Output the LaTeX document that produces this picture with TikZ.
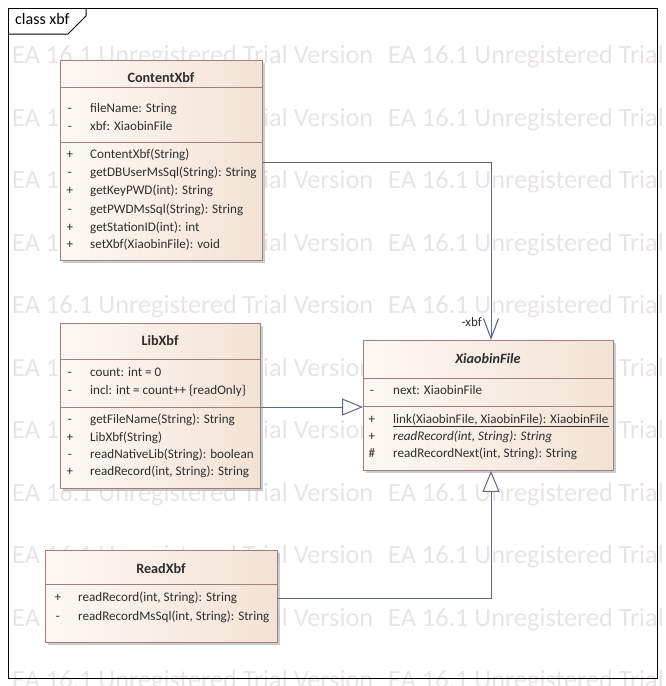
\documentclass[tikz,border=0pt]{standalone}
\usepackage{fontspec}
\setmainfont{Carlito}
\usetikzlibrary{arrows.meta,calc,shadows}

\definecolor{boxL}{HTML}{FDF8F4}
\definecolor{boxR}{HTML}{F3E2D5}
\definecolor{boxBorder}{HTML}{A47E7E}
\definecolor{shadowC}{HTML}{BFBFBF}
\definecolor{wire}{HTML}{5E6785}
\definecolor{ink}{HTML}{2E2E2E}
\definecolor{wmark}{HTML}{E8E4E4}

\tikzset{
  classbox/.style={draw=boxBorder, line width=0.9pt, left color=boxL, right color=boxR,
    anchor=north west, inner sep=0pt,
    drop shadow={shadow xshift=3pt, shadow yshift=-3pt, fill=shadowC, opacity=0.8}},
  compart/.style={draw=boxBorder, line width=0.9pt},
  txt/.style={inner sep=0pt, text=ink, font=\fontsize{13.1}{15}\selectfont,
    text height=9pt, text depth=3pt},
  vis/.style={txt, anchor=center},
  mem/.style={txt, anchor=west},
  ctitle/.style={txt, anchor=center, font=\fontsize{14.2}{16}\selectfont\bfseries},
  wmtext/.style={inner sep=0pt, anchor=base west, text=wmark, font=\fontsize{26.3}{28}\selectfont},
  wire/.style={draw=wire, line width=1pt},
  assoc/.style={wire, -{Straight Barb[length=20pt, width=15pt, line width=1.1pt]}},
  generalize/.style={wire, -{Triangle[open, length=21pt, width=17pt, fill=white, line width=1pt]}},
}

% one visibility mark plus its member text
\newcommand\umlrow[6]{%
  \node[vis] (#1v) at (#2,#4) {#5};
  \node[mem] (#1t) at (#3,#4) {#6};}

\begin{document}
\begin{tikzpicture}[x=1pt, y=-1pt]
\useasboundingbox (0,0) rectangle (665,686);

% repeated background stamp
\begin{scope}
  \clip (0,0) rectangle (665,686);
  \foreach \r in {0,...,10} {
    \node[wmtext] (wmA\r) at (12, 63.5+62.5*\r) {EA 16.1 Unregistered Trial Version};
    \node[wmtext] (wmB\r) at (388, 63.5+62.5*\r) {EA 16.1 Unregistered Trial Version};
  }
\end{scope}

% diagram frame with its name tab
\draw[black, line width=1pt] (8,8) rectangle (657,678);
\draw[black, line width=1pt] (8,34) -- (68,34) -- (86,16) -- (86,8);
\node[txt, anchor=west, text=black, font=\fontsize{16}{18}\selectfont] (frametitle) at (15,21) {class xbf};

% ---------- ContentXbf ----------
\node[classbox, minimum width=202pt, minimum height=200pt] (content) at (60,60) {};
\draw[compart] ($(content.north west)+(0,27)$) -- ++(202,0);
\draw[compart] ($(content.north west)+(0,82)$) -- ++(202,0);
\node[ctitle] (contenttitle) at (161,79) {ContentXbf};
\umlrow{ca1}{70}{90}{109}{-}{fileName: String}
\umlrow{ca2}{70}{90}{127}{-}{xbf: XiaobinFile}
\umlrow{cm1}{70}{90}{155}{+}{ContentXbf(String)}
\umlrow{cm2}{70}{90}{173}{-}{getDBUserMsSql(String): String}
\umlrow{cm3}{70}{90}{191}{+}{getKeyPWD(int): String}
\umlrow{cm4}{70}{90}{210}{-}{getPWDMsSql(String): String}
\umlrow{cm5}{70}{90}{228}{+}{getStationID(int): int}
\umlrow{cm6}{70}{90}{245}{+}{setXbf(XiaobinFile): void}

% ---------- LibXbf ----------
\node[classbox, minimum width=200pt, minimum height=165pt] (lib) at (60,323) {};
\draw[compart] ($(lib.north west)+(0,36)$) -- ++(200,0);
\draw[compart] ($(lib.north west)+(0,84)$) -- ++(200,0);
\node[ctitle] (libtitle) at (160,342) {LibXbf};
\umlrow{la1}{70}{90}{373}{-}{count: int = 0}
\umlrow{la2}{70}{90}{391}{-}{incl: int = count++ \{readOnly\}}
\umlrow{lm1}{70}{90}{420}{-}{getFileName(String): String}
\umlrow{lm2}{70}{90}{438}{+}{LibXbf(String)}
\umlrow{lm3}{70}{90}{455}{-}{readNativeLib(String): boolean}
\umlrow{lm4}{70}{90}{472}{+}{readRecord(int, String): String}

% ---------- XiaobinFile ----------
\node[classbox, minimum width=250pt, minimum height=130pt] (xiaobin) at (363,340) {};
\draw[compart] ($(xiaobin.north west)+(0,38)$) -- ++(250,0);
\draw[compart] ($(xiaobin.north west)+(0,66)$) -- ++(250,0);
\node[ctitle, font=\fontsize{14.2}{16}\selectfont\bfseries\itshape] (xiaobintitle) at (488,360) {XiaobinFile};
\umlrow{xa1}{372}{393}{391}{-}{next: XiaobinFile}
\umlrow{xm1}{372}{393}{420}{+}{\underline{link(XiaobinFile, XiaobinFile): XiaobinFile}}
\umlrow{xm2}{372}{393}{437}{+}{\itshape readRecord(int, String): String}
\umlrow{xm3}{372}{393}{454}{\#}{readRecordNext(int, String): String}

% ---------- ReadXbf ----------
\node[classbox, minimum width=232pt, minimum height=92pt] (read) at (45,550) {};
\draw[compart] ($(read.north west)+(0,34)$) -- ++(232,0);
\node[ctitle] (readtitle) at (161,570) {ReadXbf};
\umlrow{rm1}{58}{78}{598}{+}{readRecord(int, String): String}
\umlrow{rm2}{58}{78}{617}{-}{readRecordMsSql(int, String): String}

% ---------- relations ----------
\draw[assoc] ($(content.north east)+(0,102)$) -| ($(xiaobin.north west)+(128,0)$);
\node[txt, anchor=east, font=\fontsize{13}{15}\selectfont] (xbfrole) at (482,323) {-xbf};
\draw[generalize] ($(lib.north east)+(0,84)$) -- ($(xiaobin.north west)+(0,67)$);
\draw[generalize] ($(read.north east)+(0,48)$) -| ($(xiaobin.south west)+(128,0)$);

\end{tikzpicture}
\end{document}
